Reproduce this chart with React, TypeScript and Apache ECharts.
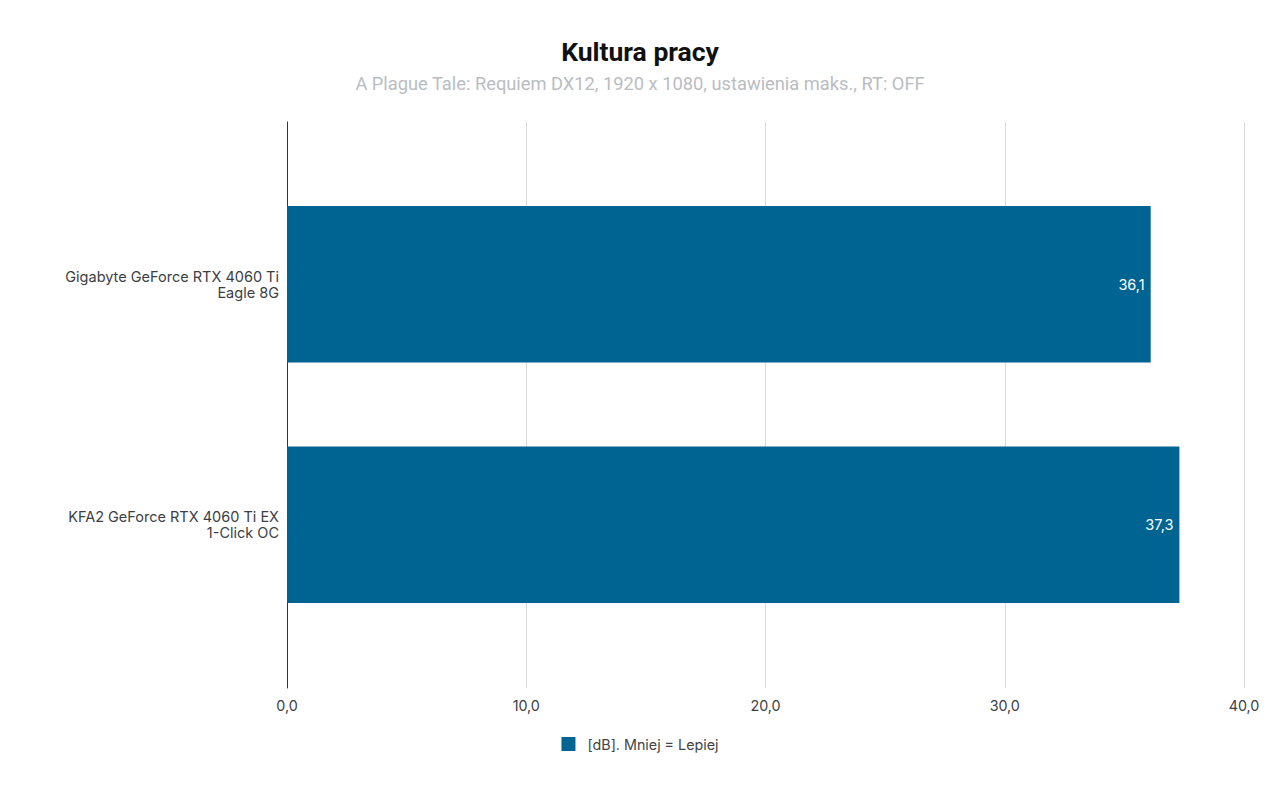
import { useEffect, useRef } from "react";
import * as echarts from "echarts";

const categories = [
  "Gigabyte GeForce RTX 4060 Ti\nEagle 8G",
  "KFA2 GeForce RTX 4060 Ti EX\n1-Click OC",
];
const values = [36.1, 37.3];
const seriesName = "[dB]. Mniej = Lepiej";
const title = "Kultura pracy";
const subtitle = "A Plague Tale: Requiem DX12, 1920 x 1080, ustawienia maks., RT: OFF";

const fmt = (v: number) => v.toFixed(1).replace(".", ",");

export default function App() {
  const ref = useRef<HTMLDivElement>(null);

  useEffect(() => {
    if (!ref.current) return;
    const chart = echarts.init(ref.current, undefined, { renderer: "svg" });
    chart.setOption({
      animation: false,
      backgroundColor: "#ffffff",
      title: {
        text: title,
        subtext: subtitle,
        left: "center",
        top: 33,
        itemGap: 9,
        textStyle: { fontFamily: "Roboto", fontWeight: "bold", fontSize: 26.5, color: "#111111" },
        subtextStyle: { fontFamily: "Roboto", fontSize: 18.3, color: "#b9bdc2" },
      },
      legend: {
        bottom: 34,
        left: "center",
        itemWidth: 14,
        itemHeight: 14,
        icon: "rect",
        textStyle: {
          fontFamily: "Inter",
          fontSize: 14.3,
          color: "#444444",
          padding: [0, 0, 0, 7],
        },
      },
      grid: [
        { left: 287, right: 36, top: 122, bottom: 102, containLabel: false },
        { left: 287, right: 36, top: 164, bottom: 145, containLabel: false },
      ],
      xAxis: [
        {
          type: "value",
          gridIndex: 0,
          min: 0,
          max: 40,
          interval: 10,
          axisLine: { show: false },
          axisTick: { show: false },
          splitLine: { lineStyle: { color: "#d9d9d9", width: 1 } },
          axisLabel: {
            formatter: (v: number) => fmt(v),
            fontFamily: "Inter",
            fontSize: 14.3,
            color: "#3c4043",
            margin: 10,
          },
        },
        {
          type: "value",
          gridIndex: 1,
          min: 0,
          max: 40,
          show: false,
        },
      ],
      yAxis: [
        {
          type: "category",
          gridIndex: 0,
          data: categories,
          inverse: true,
          axisLine: { show: true, lineStyle: { color: "#333333", width: 1 } },
          axisTick: { show: false },
          axisLabel: { show: false },
          splitLine: { show: false },
        },
        {
          type: "category",
          gridIndex: 1,
          data: categories,
          inverse: true,
          axisLine: { show: false },
          axisTick: { show: false },
          splitLine: { show: false },
          axisLabel: {
            fontFamily: "Inter",
            fontSize: 14.5,
            color: "#3c4043",
            margin: 8,
            lineHeight: 16,
            align: "right",
          },
        },
      ],
      series: [
        {
          name: seriesName,
          type: "bar",
          xAxisIndex: 1,
          yAxisIndex: 1,
          data: values,
          barCategoryGap: "35%",
          itemStyle: { color: "#006493" },
          label: {
            show: true,
            position: "insideRight",
            distance: 6,
            formatter: (p: any) => fmt(p.value),
            fontFamily: "Inter",
            fontSize: 14.5,
            color: "#ffffff",
          },
        },
      ],
    });
    return () => chart.dispose();
  }, []);

  return (
    <div
      ref={ref}
      style={{ position: "absolute", left: 0, top: 0, width: 1280, height: 790 }}
    />
  );
}
